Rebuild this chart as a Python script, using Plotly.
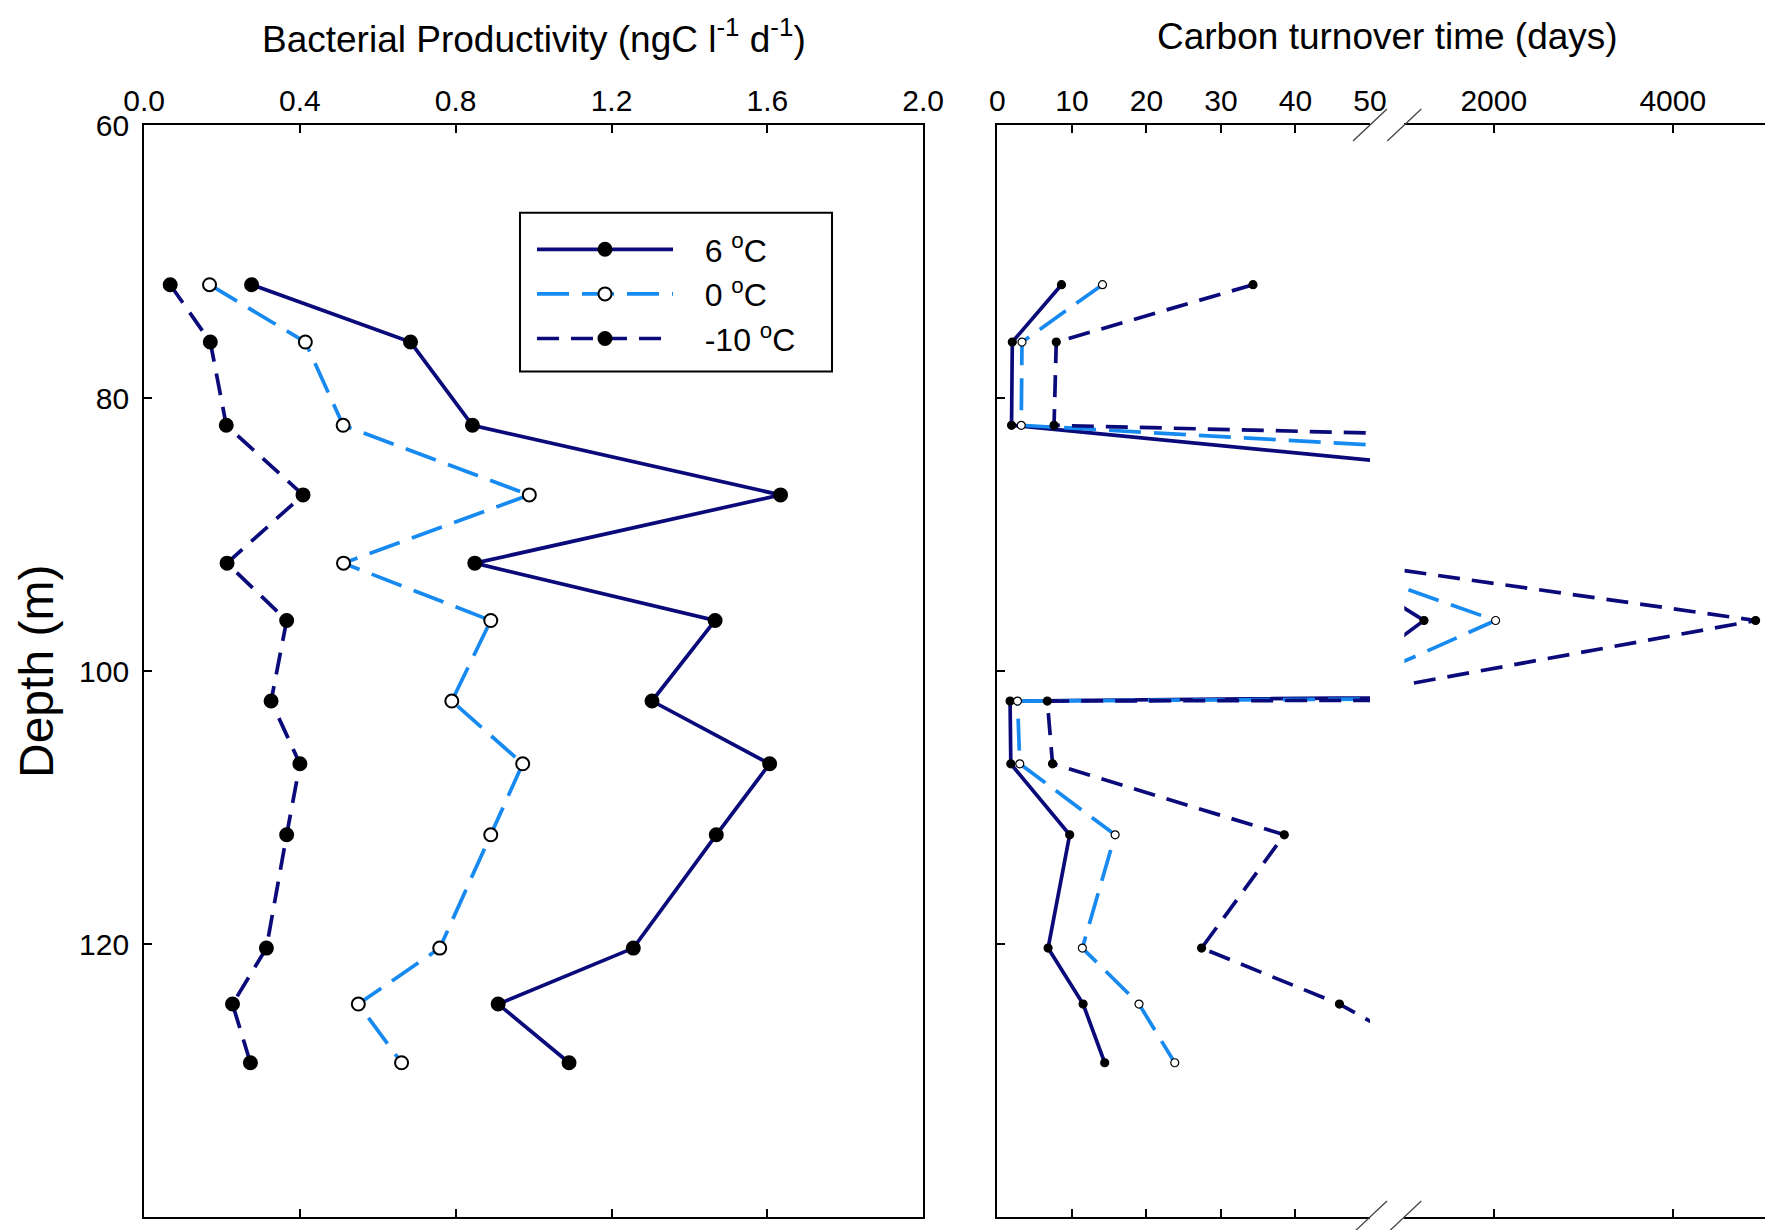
import plotly.graph_objects as go

# Sampling depths (m)
depth = [71.7, 75.9, 82.0, 87.1, 92.1, 96.3, 102.2, 106.8, 112.0, 120.3, 124.4, 128.7]

# Bacterial productivity (ngC l-1 d-1) by incubation temperature
bp_6 = [0.276, 0.684, 0.843, 1.634, 0.849, 1.466, 1.304, 1.606, 1.469, 1.256, 0.909, 1.091]
bp_0 = [0.168, 0.414, 0.511, 0.989, 0.512, 0.890, 0.790, 0.972, 0.890, 0.759, 0.550, 0.661]
bp_m10 = [0.067, 0.170, 0.211, 0.408, 0.213, 0.366, 0.326, 0.400, 0.366, 0.314, 0.227, 0.273]

# Carbon turnover time (days) by incubation temperature
tt_6 = [8.6, 2.0, 1.9, 98, 192, 1220, 1.7, 1.8, 9.7, 6.8, 11.5, 14.4]
tt_0 = [14.1, 3.3, 3.2, 169, 205, 2020, 2.7, 3.0, 15.8, 11.4, 19.0, 23.8]
tt_m10 = [34.3, 7.9, 7.6, 390, 410, 4925, 6.7, 7.4, 38.5, 27.4, 45.9, 60]

series_names = ["6 <sup>o</sup>C", "0 <sup>o</sup>C", "-10 <sup>o</sup>C"]
bp_ticks = [0.0, 0.4, 0.8, 1.2, 1.6, 2.0]
tt_ticks_low = [0, 10, 20, 30, 40, 50]
tt_ticks_high = [2000, 4000]
depth_ticks = [60, 80, 100, 120, 140]

NAVY = "#0a0a7a"
LIGHT = "#168af0"
FONT = "Liberation Sans, Arial, sans-serif"
PAD = "\u00a0" * 3

W, H = 1765, 1230


def px(x):
    return x / W


def py(y):
    return 1 - y / H


styles = [
    dict(color=NAVY, dash="solid", mfill="black"),
    dict(color=LIGHT, dash="32px,13px", mfill="white"),
    dict(color=NAVY, dash="22px,12px", mfill="black"),
]
bp_series = [bp_6, bp_0, bp_m10]
tt_series = [tt_6, tt_0, tt_m10]

fig = go.Figure()

# Left panel: productivity profiles
for name, vals, st in zip(series_names, bp_series, styles):
    fig.add_trace(go.Scatter(
        x=vals, y=depth, name=PAD + name + PAD, mode="lines+markers",
        line=dict(color=st["color"], width=3.7, dash=st["dash"]),
        marker=dict(size=13, color=st["mfill"], line=dict(color="black", width=2)),
        xaxis="x", yaxis="y", showlegend=True,
    ))

# Right panel: turnover time, drawn on both sides of the broken axis
for vals, st in zip(tt_series, styles):
    for xa in ("x2", "x3"):
        fig.add_trace(go.Scatter(
            x=vals, y=depth, mode="lines+markers",
            line=dict(color=st["color"], width=3.7, dash=st["dash"]),
            marker=dict(size=8, color=st["mfill"], line=dict(color="black", width=1.2)),
            xaxis=xa, yaxis="y2", showlegend=False, hoverinfo="x+y",
        ))

ydom = [py(1217), py(125)]
tickfont = dict(family=FONT, size=30, color="black")

common_x = dict(side="top", ticks="inside", ticklen=8, tickwidth=1.5, tickcolor="black",
                showline=True, linecolor="black", mirror="ticks", showgrid=False,
                zeroline=False, tickfont=tickfont, ticklabelstandoff=0, automargin=False)

fig.update_layout(
    width=W, height=H,
    margin=dict(l=0, r=0, t=0, b=0, autoexpand=False),
    paper_bgcolor="white", plot_bgcolor="white",
    font=dict(family=FONT, color="black"),
    xaxis=dict(domain=[px(144.1), px(923.1)], range=[0, 2.0], tickvals=bp_ticks,
               ticktext=[f"{v:.1f}" for v in bp_ticks], anchor="y", linewidth=2, **common_x),
    yaxis=dict(domain=ydom, range=[140, 60], tickvals=depth_ticks, ticks="inside", ticklen=8,
               tickwidth=1.5, tickcolor="black", showline=True, linewidth=2, linecolor="black",
               mirror=True, showgrid=False, zeroline=False, tickfont=tickfont,
               ticklabelstandoff=7, anchor="x", automargin=False),
    xaxis2=dict(domain=[px(997.4), px(1370)], range=[0, 50], tickvals=tt_ticks_low,
                anchor="y2", linewidth=1.5, **common_x),
    xaxis3=dict(domain=[px(1404.3), 1.0], range=[1000, 5030], tickvals=tt_ticks_high,
                anchor="y2", linewidth=1.5, **common_x),
    yaxis2=dict(domain=ydom, range=[140, 60], tickvals=depth_ticks, ticks="inside", ticklen=8,
                tickwidth=1.5, tickcolor="black", showline=True, linewidth=2,
                linecolor="black", showticklabels=False, showgrid=False, zeroline=False,
                anchor="x2", automargin=False),
    legend=dict(x=px(532), y=py(222), xanchor="left", yanchor="top",
                bgcolor="rgba(0,0,0,0)", borderwidth=0,
                itemwidth=136, font=dict(family=FONT, size=32, color="black"),
                tracegroupgap=0),
    showlegend=True,
)

# Legend frame
fig.add_shape(type="rect", xref="paper", yref="paper",
              x0=px(520), y0=py(371.5), x1=px(832), y1=py(212.8),
              line=dict(color="black", width=2), fillcolor="white", layer="below")

# Titles and axis label
fig.add_annotation(text="Bacterial Productivity (ngC l<sup>-1</sup> d<sup>-1</sup>)",
                   x=px(533.6), y=py(37), xref="paper", yref="paper", showarrow=False,
                   xanchor="center", yanchor="middle",
                   font=dict(family=FONT, size=37, color="black"))
fig.add_annotation(text="Carbon turnover time (days)",
                   x=px(1387), y=py(37), xref="paper", yref="paper", showarrow=False,
                   xanchor="center", yanchor="middle",
                   font=dict(family=FONT, size=37, color="black"))
fig.add_annotation(text="Depth (m)", x=px(36), y=py(672), xref="paper", yref="paper",
                   showarrow=False, textangle=-90, xanchor="center", yanchor="middle",
                   font=dict(family=FONT, size=48, color="black"))

# Axis-break slashes on the top and bottom turnover axes
for ybreak in (125, 1217):
    for xbreak in (1370, 1404.3):
        fig.add_shape(type="line", xref="paper", yref="paper",
                      x0=px(xbreak - 17), y0=py(ybreak + 16),
                      x1=px(xbreak + 17), y1=py(ybreak - 16),
                      line=dict(color="#444444", width=1.3))

fig.write_html("out.html")
